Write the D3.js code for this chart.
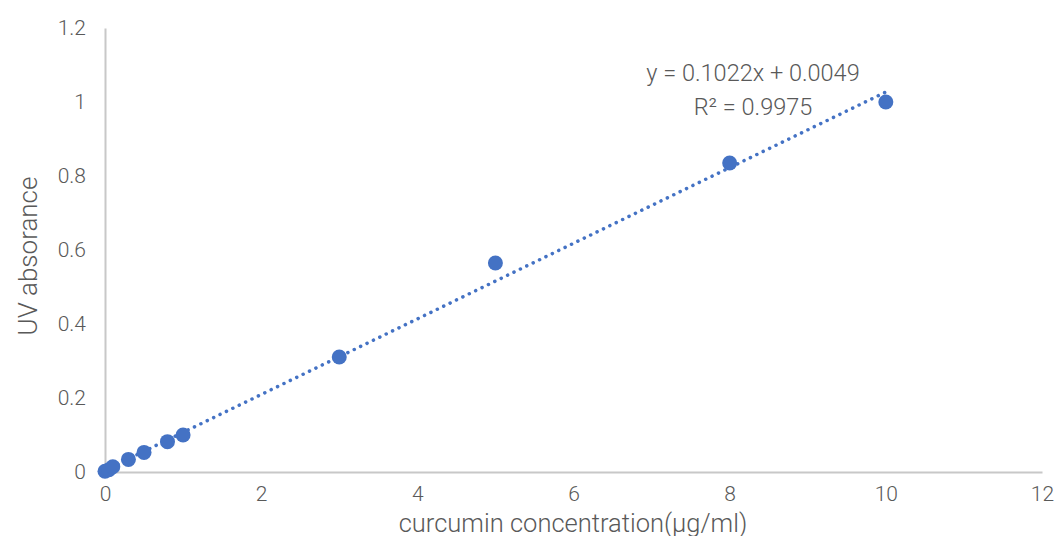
<!DOCTYPE html>
<html>
<head>
<meta charset="utf-8">
<script src="https://cdn.jsdelivr.net/npm/d3@7"></script>
<style>
body{margin:0;background:#fff;}
text{font-family:Roboto,"Noto Sans",sans-serif;font-weight:300;fill:#595959;}
</style>
</head>
<body>
<div id="chart"></div>
<script>
// measured points (concentration, absorbance)
var concentration=[0,0.05,0.1,0.3,0.5,0.8,1,3,5,8,10];
var absorbance=[0.002,0.006,0.014,0.034,0.053,0.082,0.1,0.311,0.565,0.835,1.0];
var xTicks=[0,2,4,6,8,10,12];
var yTicks=[0,0.2,0.4,0.6,0.8,1,1.2];
var slope=0.1022, intercept=0.0049;
var eqLines=['y = 0.1022x + 0.0049','R\u00b2 = 0.9975'];

var W=1057,H=536;
var m={left:105,right:15,top:28,bottom:64};

var svg=d3.select('#chart').append('svg').attr('width',W).attr('height',H);

var x=d3.scaleLinear().domain([0,12]).range([m.left,W-m.right]);
var y=d3.scaleLinear().domain([0,1.2]).range([H-m.bottom,m.top]);

// axes: lines only, no tick marks
var xAxis=svg.append('g').attr('transform','translate(0,'+y(0)+')')
	.call(d3.axisBottom(x).tickValues(xTicks).tickSize(0).tickPadding(14).tickFormat(d3.format('~g')));
var yAxis=svg.append('g').attr('transform','translate('+x(0)+',0)')
	.call(d3.axisLeft(y).tickValues(yTicks).tickSize(0).tickPadding(19).tickFormat(d3.format('~g')));
[xAxis,yAxis].forEach(function(a){
	a.select('.domain').attr('stroke','#c8c8c8').attr('stroke-width',2);
	a.selectAll('text').style('font-size','21px').style('fill','#595959').style('font-family','Roboto').style('font-weight','300');
});

// trendline
var line=d3.line().x(function(d){return x(d);}).y(function(d){return y(slope*d+intercept);});
svg.append('path').datum([0,10]).attr('d',line)
	.attr('fill','none').attr('stroke','#4472C4').attr('stroke-width',3.5)
	.attr('stroke-linecap','round').attr('stroke-dasharray','0.1 7');

// points
svg.selectAll('.pt').data(concentration).enter().append('circle')
	.attr('class','pt')
	.attr('cx',function(d){return x(d);})
	.attr('cy',function(d,i){return y(absorbance[i]);})
	.attr('r',7.5).attr('fill','#4472C4');

// equation label
svg.selectAll('.eq').data(eqLines).enter().append('text')
	.attr('class','eq')
	.attr('x',753).attr('y',function(d,i){return 81+i*34;})
	.attr('text-anchor','middle').style('font-size','23.5px')
	.text(function(d){return d;});

// axis titles
svg.append('text').attr('x',573).attr('y',H-4)
	.attr('text-anchor','middle').style('font-size','25.5px')
	.text('curcumin concentration(\u00b5g/ml)');
svg.append('text').attr('transform','translate(37,'+256+') rotate(-90)')
	.attr('text-anchor','middle').style('font-size','26px')
	.text('UV absorance');
</script>
</body>
</html>
